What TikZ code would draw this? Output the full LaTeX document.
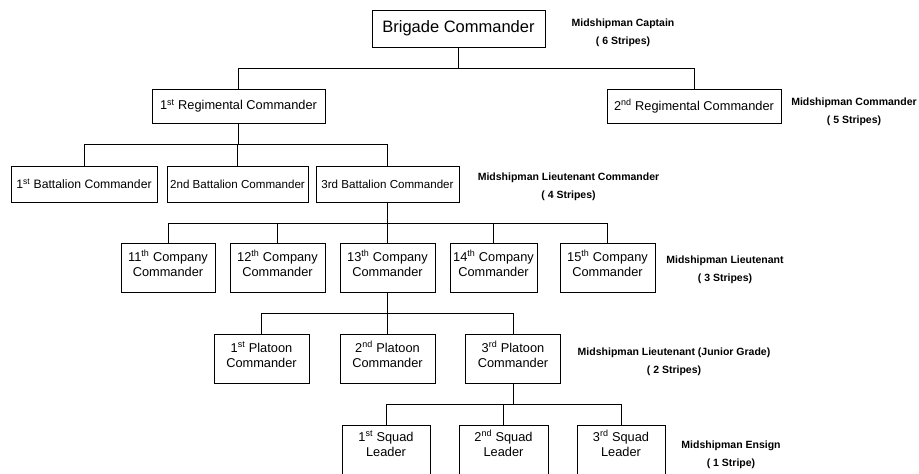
\documentclass[tikz,border=0pt]{standalone}
\usepackage{fontspec}
\setmainfont{Liberation Sans}
\usetikzlibrary{calc}

\begin{document}
\begin{tikzpicture}[x=1pt,y=-1pt,line width=0.8pt]
	\tikzset{box/.style={draw, inner sep=0pt, align=flush center, font=\fontsize{12.8}{15}\selectfont}}
	\tikzset{tall/.style={box, text width=#1, text height=18pt, text depth=31pt}} %text sits at the top
	\tikzset{rank/.style={align=center, font=\bfseries\fontsize{10.5}{18}\selectfont}}
	\tikzset{branch/.style={to path={(\tikztostart.south) -- +(0,21) -| (\tikztotarget.north)}}}
	\useasboundingbox (0,0) rectangle (919,474);
	
	\node[box, minimum width=173pt, minimum height=37pt, font=\fontsize{16.5}{18}\selectfont] (brig) at (458.5,28.5) {Brigade Commander};
	
	\node[box, minimum width=173pt, minimum height=34pt] (reg1) at (238.5,106) {1\textsuperscript{st} Regimental Commander};
	\node[box, minimum width=174pt, minimum height=34pt] (reg2) at (694,106) {2\textsuperscript{nd} Regimental Commander};
	
	\node[box, minimum width=146pt, minimum height=36pt, font=\fontsize{12.2}{14}\selectfont] (bat1) at (84,184) {1\textsuperscript{st} Battalion Commander};
	\node[box, minimum width=141pt, minimum height=36pt, font=\fontsize{11.6}{14}\selectfont] (bat2) at (237.5,184) {2nd Battalion Commander};
	\node[box, minimum width=143pt, minimum height=36pt, font=\fontsize{11.6}{14}\selectfont] (bat3) at (387.5,184) {3rd Battalion Commander};
	
	\node[tall=94pt] (co11) at (168,267.5) {11\textsuperscript{th} Company\\Commander};
	\node[tall=95pt] (co12) at (277.5,267.5) {12\textsuperscript{th} Company\\Commander};
	\node[tall=95pt] (co13) at (387.5,267.5) {13\textsuperscript{th} Company\\Commander};
	\node[tall=87pt] (co14) at (493.5,267.5) {14\textsuperscript{th} Company\\Commander};
	\node[tall=95pt] (co15) at (607.5,267.5) {15\textsuperscript{th} Company\\Commander};
	
	\node[tall=95pt] (plt1) at (261.5,358.5) {1\textsuperscript{st} Platoon\\Commander};
	\node[tall=95pt] (plt2) at (387.5,358.5) {2\textsuperscript{nd} Platoon\\Commander};
	\node[tall=95pt] (plt3) at (513,358.5) {3\textsuperscript{rd} Platoon\\Commander};
	
	\node[tall=88pt, text height=16pt, text depth=37pt] (sqd1) at (386,451.5) {1\textsuperscript{st} Squad\\Leader};
	\node[tall=89pt, text height=16pt, text depth=37pt] (sqd2) at (503.5,451.5) {2\textsuperscript{nd} Squad\\Leader};
	\node[tall=88pt, text height=16pt, text depth=37pt] (sqd3) at (621,451.5) {3\textsuperscript{rd} Squad\\Leader};
	
	\node[rank] (capt) at (623,33) {Midshipman Captain\\( 6 Stripes)};
	\node[rank] (cdr) at (854,111.5) {Midshipman Commander\\( 5 Stripes)};
	\node[rank] (ltcdr) at (568.5,187) {Midshipman Lieutenant Commander\\( 4 Stripes)};
	\node[rank] (lt) at (725,270) {Midshipman Lieutenant\\( 3 Stripes)};
	\node[rank] (ltjg) at (674,362) {Midshipman Lieutenant (Junior Grade)\\( 2 Stripes)};
	\node[rank] (ens) at (731,455) {Midshipman Ensign\\( 1 Stripe)};
	
	\foreach \a/\b in {brig/reg1, brig/reg2, reg1/bat1, reg1/bat2, reg1/bat3,
		bat3/co11, bat3/co12, bat3/co13, bat3/co14, bat3/co15,
		co13/plt1, co13/plt2, co13/plt3, plt3/sqd1, plt3/sqd2, plt3/sqd3}
		\draw (\a) to[branch] (\b);
\end{tikzpicture}
\end{document}
